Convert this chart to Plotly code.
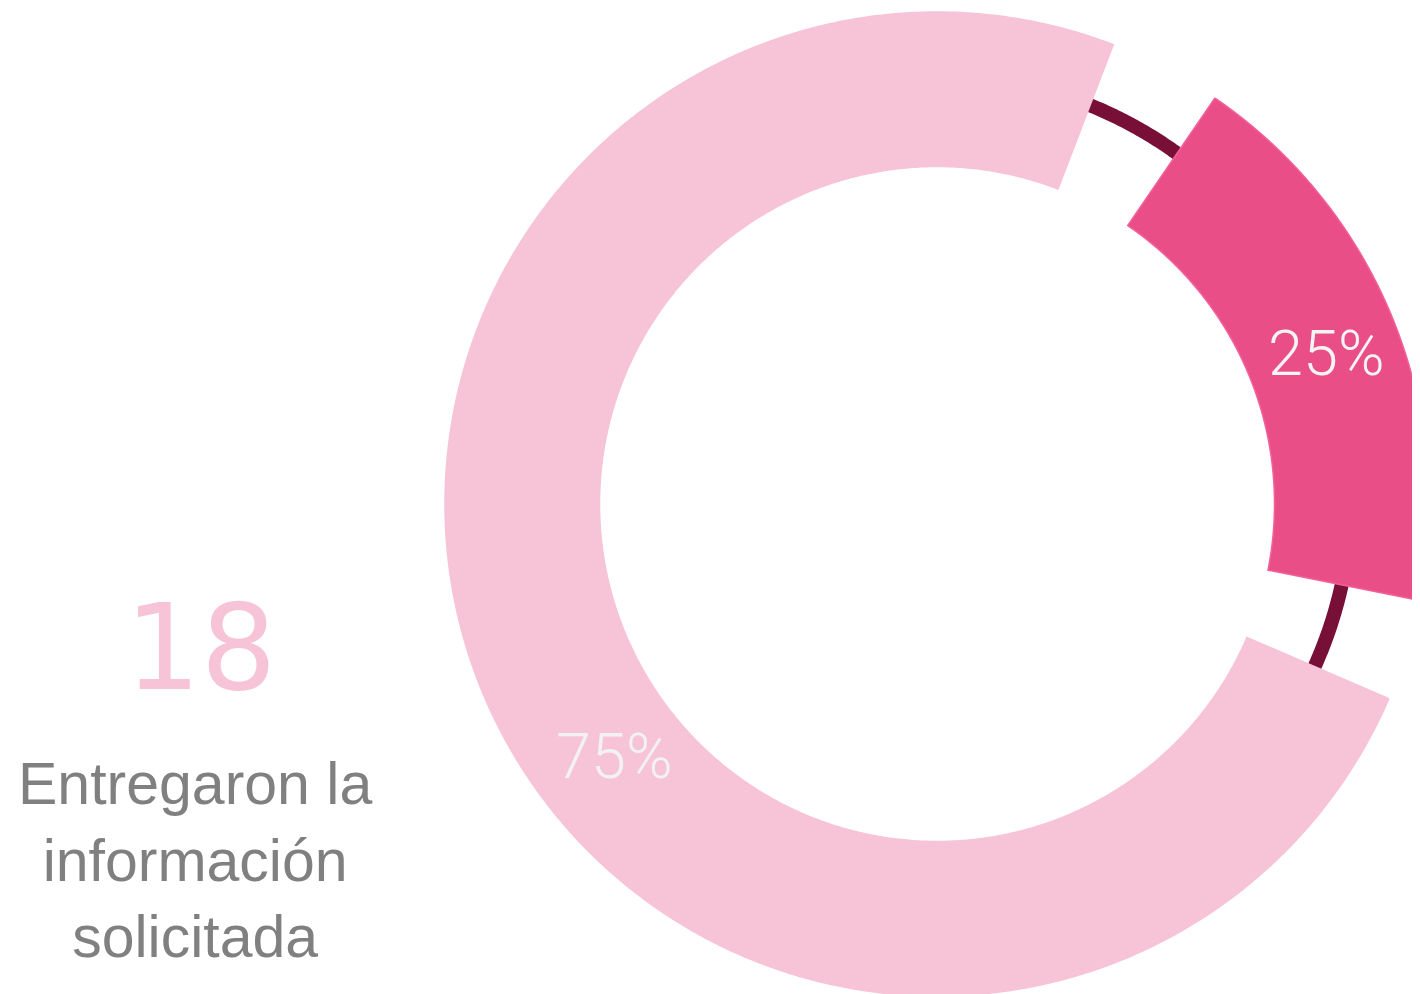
import numpy as np
import plotly.graph_objects as go

# ---------------- data ----------------
categories = ["Entregaron la información solicitada", "No entregaron la información"]
counts = [18, 6]
display_label = "Entregaron la<br>información<br>solicitada"

# ---------------- style ----------------
slice_colors = ["#F7C3D7", "#E94E87"]
slice_edges = ["#F7C3D7", "#F4609C"]
pct_colors = ["#F2F2F2", "#F4F4F4"]
ring_color = "#780F37"
gray = "#808080"

PAGE_OFF = 8               # default body margin of the html page
W, H = 1420, 986           # figure size
CX, CY = 937, 504          # donut centre in window pixels
R_OUT, R_IN = 492, 337.5   # donut radii (px)
START = 112.5              # clockwise from 12 o'clock
TRIM = [(0.8, 1.5), (11.9, 11.2)]   # angular padding of each slice (deg)
LABEL_SHIFT = [-15.25, 1.05]
LABEL_R = [410, 417]
RING_OFF = (-5.4, 9.8)
RING_R, RING_W = 420, 14

total = sum(counts)
shares = [c / total for c in counts]

fig = go.Figure()

# background ring
t = np.linspace(0, 2 * np.pi, 1441)
fig.add_trace(go.Scatter(
    x=RING_OFF[0] + RING_R * np.sin(t), y=RING_OFF[1] + RING_R * np.cos(t),
    mode="lines", line=dict(color=ring_color, width=RING_W, simplify=False),
    hoverinfo="skip", showlegend=False))

annotations = []
a0 = START
for i, (cat, s) in enumerate(zip(categories, shares)):
    a1 = a0 + s * 360
    b0, b1 = a0 + TRIM[i][0], a1 - TRIM[i][1]
    th = np.radians(np.linspace(b0, b1, 600))
    xs = np.concatenate([R_OUT * np.sin(th), R_IN * np.sin(th[::-1])])
    ys = np.concatenate([R_OUT * np.cos(th), R_IN * np.cos(th[::-1])])
    xs = np.append(xs, xs[0])
    ys = np.append(ys, ys[0])
    fig.add_trace(go.Scatter(
        x=xs, y=ys, mode="lines", fill="toself",
        fillcolor=slice_colors[i],
        line=dict(color=slice_edges[i], width=1.5, simplify=False),
        name=cat, hoverinfo="name", showlegend=False))
    mid = np.radians((b0 + b1) / 2 + LABEL_SHIFT[i])
    annotations.append(dict(
        x=LABEL_R[i] * np.sin(mid), y=LABEL_R[i] * np.cos(mid),
        xref="x", yref="y", text=f"{round(s * 100)}%", showarrow=False,
        xanchor="center", yanchor="middle",
        font=dict(family="Roboto", size=63, color=pct_colors[i], weight=300)))
    a0 = a1

# big number + caption
annotations.append(dict(
    x=200 - CX, y=CY - 648, xref="x", yref="y", text=str(counts[0]),
    showarrow=False, xanchor="center", yanchor="middle",
    font=dict(family="DejaVu Sans", size=119, color=slice_colors[0])))
annotations.append(dict(
    x=195 - CX, y=CY - 860, xref="x", yref="y", text=display_label,
    showarrow=False, xanchor="center", yanchor="middle", align="center",
    font=dict(family="Liberation Sans", size=59, color=gray)))

ox, oy = CX - PAGE_OFF, CY - PAGE_OFF
fig.update_layout(
    width=W, height=H, margin=dict(l=0, r=0, t=0, b=0),
    paper_bgcolor="white", plot_bgcolor="white",
    xaxis=dict(range=[-ox, W - ox], visible=False, fixedrange=True),
    yaxis=dict(range=[oy - H, oy], visible=False, fixedrange=True),
    annotations=annotations, showlegend=False)

fig.write_html("out.html")
